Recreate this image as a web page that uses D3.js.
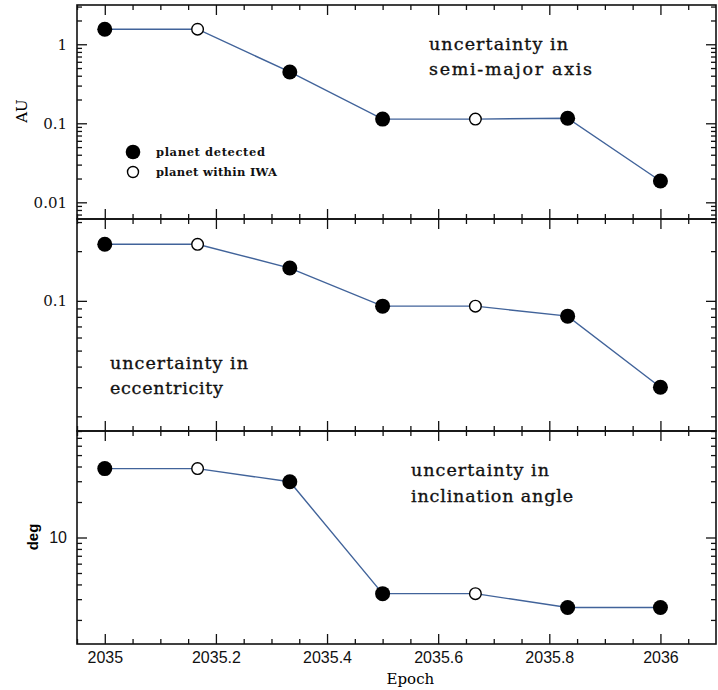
<!DOCTYPE html>
<html>
<head>
<meta charset="utf-8">
<script src="https://cdn.jsdelivr.net/npm/d3@7"></script>
<style>
  body { margin: 0; background: #fff; }
  .axis path, .axis line { stroke: #111; stroke-width: 1.3; }
  .frame { fill: none; stroke: #111; stroke-width: 1.6; }
  .serif text { font-family: "DejaVu Serif", serif; font-size: 15px; fill: #111; }
  .sans text { font-family: "Liberation Sans", Arial, sans-serif; font-size: 16px; fill: #111; }
  .note { font-family: "DejaVu Serif", serif; font-size: 17.5px; fill: #111; stroke: #111; stroke-width: 0.35; }
  .legend-text { font-family: "DejaVu Serif", serif; font-size: 11.5px; font-weight: bold; fill: #111; }
</style>
</head>
<body>
<div id="container"></div>
<script>
const width = 718;
const height = 690;

// DATA
const epochs = [2035, 2035.167, 2035.333, 2035.5, 2035.667, 2035.833, 2036];
const detected = [true, false, true, true, false, true, true];
const semiMajorAU = [1.55, 1.55, 0.446, 0.113, 0.113, 0.1157, 0.0186];
const eccentricity = [0.22, 0.22, 0.158, 0.0929, 0.0929, 0.0808, 0.030];
const inclinationDeg = [38.4, 38.4, 29.7, 3.34, 3.34, 2.55, 2.55];

const xTicks = [2035, 2035.2, 2035.4, 2035.6, 2035.8, 2036];
const xMinorTicks = d3.range(2034.95, 2036.1, 0.05).map(function (v) { return +v.toFixed(2); });
const auTicks = [0.01, 0.1, 1];
const eccTicks = [0.1];
const degTicks = [10];

const legendLabels = ["planet detected", "planet within IWA"];

// LAYOUT
const left = 77, right = 716;
const panels = [
    { values: semiMajorAU, domain: [0.00615, 3.14], range: [219, 5], ticks: auTicks,
      label: "AU", labelFont: "serif", labelX: 22, labelY: 111, tickFont: "serif",
      notes: ["uncertainty in", "semi-major axis"], noteX: 429, noteY: [50, 75], noteW: [139, 163] },
    { values: eccentricity, domain: [0.0163, 0.313], range: [431, 219], ticks: eccTicks,
      label: null, tickFont: "serif",
      notes: ["uncertainty in", "eccentricity"], noteX: 110, noteY: [369, 394], noteW: [138, 113] },
    { values: inclinationDeg, domain: [1.25, 80], range: [644, 431], ticks: degTicks,
      label: "deg", labelFont: "sans", labelX: 33, labelY: 537, tickFont: "sans",
      notes: ["uncertainty in", "inclination angle"], noteX: 411, noteY: [476, 502], noteW: [138, 162] }
];

const svg = d3.select("div#container").append("svg")
    .attr("width", width)
    .attr("height", height);

// SCALES
const xScale = d3.scaleLinear().domain([2034.95, 2036.1]).range([left, right]);

const line = d3.line();

function noDomain(s) { s.select(".domain").remove(); }

panels.forEach(function (p, i) {
    const yScale = d3.scaleLog().domain(p.domain).range(p.range);
    const top = p.range[1], bottom = p.range[0];
    const g = svg.append("g");

    // minor y ticks from the log scale (2..9 x 10^n)
    const yMinor = yScale.ticks().filter(function (v) { return p.ticks.indexOf(v) < 0; });

    // AXES - left
    g.append("g").attr("class", "axis " + p.tickFont)
        .attr("transform", "translate(" + left + ",0)")
        .call(d3.axisLeft(yScale).tickValues(p.ticks).tickSize(-10).tickPadding(10)
            .tickFormat(function (d) { return d3.format("~g")(d); }))
        .call(noDomain);
    g.append("g").attr("class", "axis")
        .attr("transform", "translate(" + left + ",0)")
        .call(d3.axisLeft(yScale).tickValues(yMinor).tickSize(-5).tickFormat(""))
        .call(noDomain);
    // right
    g.append("g").attr("class", "axis")
        .attr("transform", "translate(" + right + ",0)")
        .call(d3.axisRight(yScale).tickValues(p.ticks).tickSize(-10).tickFormat(""))
        .call(noDomain);
    g.append("g").attr("class", "axis")
        .attr("transform", "translate(" + right + ",0)")
        .call(d3.axisRight(yScale).tickValues(yMinor).tickSize(-5).tickFormat(""))
        .call(noDomain);

    // bottom and top x ticks
    [[bottom, d3.axisBottom], [top, d3.axisTop]].forEach(function (a) {
        g.append("g").attr("class", "axis")
            .attr("transform", "translate(0," + a[0] + ")")
            .call(a[1](xScale).tickValues(xTicks).tickSize(-10).tickFormat(""))
            .call(noDomain);
        g.append("g").attr("class", "axis")
            .attr("transform", "translate(0," + a[0] + ")")
            .call(a[1](xScale).tickValues(xMinorTicks.filter(function (v) {
                return xTicks.indexOf(v) < 0;
            })).tickSize(-5).tickFormat(""))
            .call(noDomain);
    });

    // x labels only on the last panel
    if (i === panels.length - 1) {
        g.append("g").attr("class", "axis sans")
            .attr("transform", "translate(0," + bottom + ")")
            .call(d3.axisBottom(xScale).tickValues(xTicks).tickSize(0).tickPadding(8)
                .tickFormat(function (d) { return d3.format("~g")(d); }))
            .call(noDomain);
    }

    g.append("rect").attr("class", "frame")
        .attr("x", left).attr("y", top)
        .attr("width", right - left).attr("height", bottom - top);

    // LINES
    const pts = p.values.map(function (v, k) { return [xScale(epochs[k]), yScale(v)]; });
    g.append("path")
        .attr("d", line(pts))
        .attr("fill", "none")
        .attr("stroke", "#41639a")
        .attr("stroke-width", 1.4);

    g.selectAll("circle.pt")
        .data(pts)
        .enter().append("circle")
        .attr("class", "pt")
        .attr("cx", function (d) { return d[0]; })
        .attr("cy", function (d) { return d[1]; })
        .attr("r", function (d, k) { return detected[k] ? 7.5 : 5.8; })
        .attr("fill", function (d, k) { return detected[k] ? "#000" : "#fff"; })
        .attr("stroke", "#000")
        .attr("stroke-width", function (d, k) { return detected[k] ? 0 : 1.4; });

    // annotations
    p.notes.forEach(function (t, k) {
        g.append("text").attr("class", "note")
            .attr("x", p.noteX).attr("y", p.noteY[k])
            .attr("textLength", p.noteW[k]).attr("lengthAdjust", "spacing")
            .text(t);
    });

    if (p.label) {
        g.append("text")
            .attr("transform", "translate(" + p.labelX + "," + p.labelY + ") rotate(-90)")
            .attr("text-anchor", "middle")
            .attr("dy", "0.35em")
            .style("font-family", p.labelFont === "serif" ? "DejaVu Serif, serif" : "Liberation Sans, Arial, sans-serif")
            .style("font-size", "15px")
            .style("font-weight", p.labelFont === "serif" ? "normal" : "bold")
            .text(p.label);
    }
});

// LEGEND
const legend = svg.append("g");
legendLabels.forEach(function (t, k) {
    const y = 152 + k * 20;
    legend.append("circle")
        .attr("cx", 133).attr("cy", y)
        .attr("r", k === 0 ? 7.3 : 5.5)
        .attr("fill", k === 0 ? "#000" : "#fff")
        .attr("stroke", "#000")
        .attr("stroke-width", k === 0 ? 0 : 1.4);
    legend.append("text").attr("class", "legend-text")
        .attr("x", 156).attr("y", y + 4)
        .attr("textLength", k === 0 ? 109 : 121).attr("lengthAdjust", "spacing")
        .text(t);
});

svg.append("text")
    .attr("x", xScale(2035.55)).attr("y", 684)
    .attr("text-anchor", "middle")
    .style("font-family", "DejaVu Serif, serif")
    .style("font-size", "15px")
    .text("Epoch");
</script>
</body>
</html>
